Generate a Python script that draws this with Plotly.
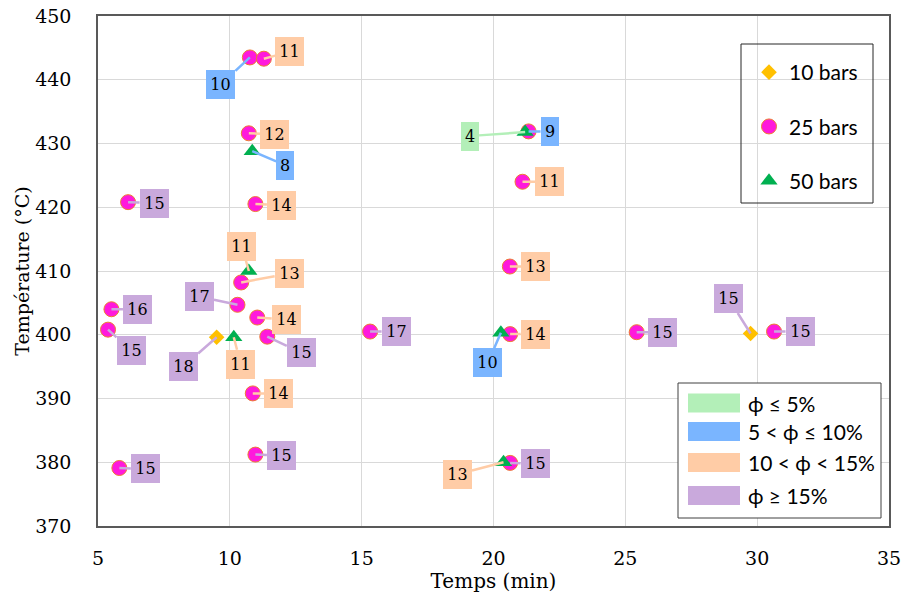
import plotly.graph_objects as go

# ---------------- data ----------------
time_10 = [9.5, 29.75]
temp_10 = [399.6, 400.2]
phi_10 = [18, 15]

time_25 = [10.76, 11.29, 10.72, 10.97, 6.14, 10.43, 10.29, 5.51, 5.38, 11.04, 11.42,
           10.87, 10.97, 5.81, 15.32, 20.63, 20.63, 20.62, 21.10, 21.33, 25.43, 30.64]
temp_25 = [443.5, 443.3, 431.6, 420.5, 420.8, 408.2, 404.7, 404.0, 400.8, 402.7, 399.7,
           390.8, 381.2, 379.1, 400.5, 400.1, 379.9, 410.7, 424.0, 431.9, 400.4, 400.5]
phi_25 = [10, 11, 12, 14, 15, 13, 17, 16, 15, 14, 15, 14, 15, 15, 17, 14, 15, 13, 11, 9, 15, 15]

time_50 = [21.2, 10.85, 10.72, 10.15, 20.28, 20.38]
temp_50 = [431.8, 428.8, 410.0, 399.6, 400.3, 380.0]
phi_50 = [4, 8, 11, 11, 10, 13]

x_ticks = [5, 10, 15, 20, 25, 30, 35]
y_ticks = [370, 380, 390, 400, 410, 420, 430, 440, 450]

series_names = ["10 bars", "25 bars", "50 bars"]
phi_classes = ["ϕ ≤ 5%", "5 < ϕ ≤ 10%", "10 < ϕ < 15%", "ϕ ≥ 15%"]

# ---------------- layout / style (label offsets in px) ----------------
off_10 = [(-33, 29), (-22, -35)]
off_25 = [(-29, 27), (26, -7), (26, 1), (26, 1), (26, 1), (48, -9), (-38, -8), (26, 0),
          (23, 21), (29, 2), (34, 16), (26, 0), (26, 1), (26, 1), (26, 0), (25, 0),
          (25, 1), (26, 0), (27, 0), (21, 0), (26, 0), (26, 0)]
off_50 = [(-55, 4), (33, 14), (-7, -25), (7, 27), (-13, 30), (-46, 12)]

class_colors = ["#B3EFB8", "#7AB5FF", "#FFCCA6", "#C9A9DC"]


def phi_color(v):
    if v <= 5:
        return class_colors[0]
    if v <= 10:
        return class_colors[1]
    if v < 15:
        return class_colors[2]
    return class_colors[3]


# body margin is removed by post_script, so the figure fills the page
W, H = 904, 597
ML, MR, MT, MB = 98, 15, 16, 71
PW, PH = W - ML - MR, H - MT - MB


def px(xp):  # page pixel -> paper
    return (xp - ML) / PW


def py(yp):
    return (H - MB - yp) / PH


SERIF = "DejaVu Serif"
SANS = "Lato, Noto Sans, sans-serif"

fig = go.Figure()

fig.add_trace(go.Scatter(
    x=time_10, y=temp_10, mode="markers", name=series_names[0], legendgroup="a",
    marker=dict(symbol="diamond", size=12, color="#FFC000", line=dict(width=0))))
fig.add_trace(go.Scatter(
    x=time_25, y=temp_25, mode="markers", name=series_names[1], legendgroup="b",
    marker=dict(symbol="circle", size=15, color="#FF19DC",
                line=dict(width=1, color="#ED7D31"))))
fig.add_trace(go.Scatter(
    x=time_50, y=temp_50, mode="markers", name=series_names[2], legendgroup="c",
    marker=dict(symbol="triangle-up", size=15, color="#00B050", line=dict(width=0))))

annotations = []
for xs, ys, vals, offs in [(time_10, temp_10, phi_10, off_10),
                           (time_25, temp_25, phi_25, off_25),
                           (time_50, temp_50, phi_50, off_50)]:
    for xv, yv, v, (dx, dy) in zip(xs, ys, vals, offs):
        c = phi_color(v)
        annotations.append(dict(
            x=xv, y=yv, xref="x", yref="y", text=str(v),
            showarrow=True, arrowhead=0, arrowwidth=2.5, arrowcolor=c,
            ax=dx, ay=dy, standoff=0, startstandoff=0,
            bgcolor=c, borderwidth=0, borderpad=0,
            width=29 if len(str(v)) > 1 else 18, height=29,
            align="center", valign="middle",
            font=dict(family=SERIF, size=16, color="black")))

# phi-class legend (drawn manually)
shapes = []
shapes.append(dict(type="rect", xref="paper", yref="paper",
                   x0=px(741), x1=px(873), y0=py(44), y1=py(203),
                   line=dict(color="#262626", width=1), fillcolor="rgba(0,0,0,0)"))
shapes.append(dict(type="rect", xref="paper", yref="paper",
                   x0=px(678), x1=px(881), y0=py(383), y1=py(518),
                   line=dict(color="#404040", width=1), fillcolor="white"))
row_y = [403, 431.5, 462.5, 495.5]
for i, (lab, c) in enumerate(zip(phi_classes, class_colors)):
    yc = row_y[i]
    shapes.append(dict(type="rect", xref="paper", yref="paper",
                       x0=px(688), x1=px(740), y0=py(yc - 9.5), y1=py(yc + 9.5),
                       line=dict(width=0), fillcolor=c))
    annotations.append(dict(x=px(746), y=py(yc), xref="paper", yref="paper",
                            text=lab, showarrow=False, xanchor="left", yanchor="middle",
                            font=dict(family=SANS, size=21, color="black")))

fig.update_layout(
    width=W, height=H,
    margin=dict(l=ML, r=MR, t=MT, b=MB, autoexpand=False),
    paper_bgcolor="white", plot_bgcolor="white",
    shapes=shapes, annotations=annotations,
    showlegend=True,
    legend=dict(x=px(749), y=py(52), xanchor="left", yanchor="top",
                bgcolor="rgba(0,0,0,0)", borderwidth=0,
                font=dict(family=SANS, size=21, color="black"),
                tracegroupgap=24, traceorder="grouped", itemwidth=30),
    xaxis=dict(range=[5, 35], tickvals=x_ticks, showgrid=True, gridcolor="#D9D9D9",
               gridwidth=1, zeroline=False, showline=True, mirror=True, automargin=False,
               linecolor="#595959", linewidth=1.5, ticks="", ticklabelstandoff=14,
               ticklabeloverflow="allow",
               tickfont=dict(family=SERIF, size=19, color="black"),
               title=dict(text="Temps (min)", standoff=6,
                          font=dict(family=SERIF, size=20, color="black"))),
    yaxis=dict(range=[370, 450], tickvals=y_ticks, showgrid=True, gridcolor="#D9D9D9",
               gridwidth=1, zeroline=False, showline=True, mirror=True, automargin=False,
               linecolor="#595959", linewidth=1.5, ticks="", ticklabelstandoff=21,
               ticklabeloverflow="allow",
               tickfont=dict(family=SERIF, size=19, color="black"),
               title=dict(text="Température (°C)", standoff=1,
                          font=dict(family=SERIF, size=19, color="black"))),
)

fig.write_html("out.html",
               config={"displayModeBar": False},
               post_script="document.body.style.margin='0';"
                           "document.body.style.overflow='hidden';")
